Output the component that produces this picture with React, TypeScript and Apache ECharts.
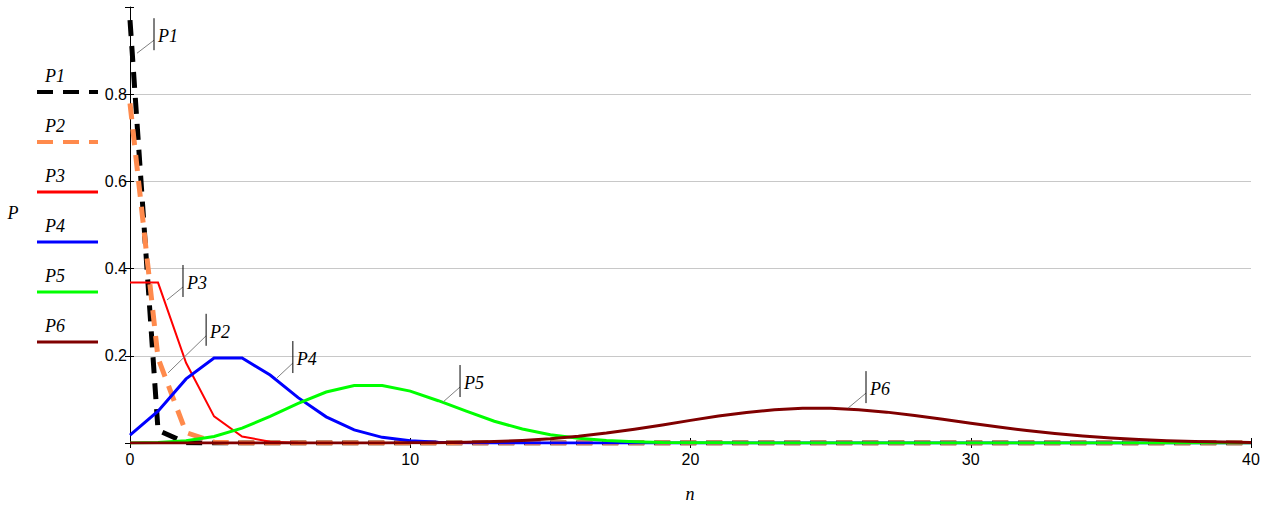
import React, { useEffect, useRef } from "react";
import * as echarts from "echarts";

// n values (x axis)
const N = [0, 1, 2, 3, 4, 5, 6, 7, 8, 9, 10, 11, 12, 13, 14, 15, 16, 17, 18, 19, 20, 21, 22, 23, 24, 25, 26, 27, 28, 29, 30, 31, 32, 33, 34, 35, 36, 37, 38, 39, 40];

const P1 = [0.97, 0.029, 0.0004, 0, 0, 0, 0, 0, 0, 0, 0, 0, 0, 0, 0, 0, 0, 0, 0, 0, 0, 0, 0, 0, 0, 0, 0, 0, 0, 0, 0, 0, 0, 0, 0, 0, 0, 0, 0, 0, 0];
const P2 = [0.779, 0.195, 0.024, 0.002, 0.0001, 0, 0, 0, 0, 0, 0, 0, 0, 0, 0, 0, 0, 0, 0, 0, 0, 0, 0, 0, 0, 0, 0, 0, 0, 0, 0, 0, 0, 0, 0, 0, 0, 0, 0, 0, 0];
const P3 = [0.368, 0.368, 0.184, 0.061, 0.015, 0.003, 0.0005, 0.0001, 0, 0, 0, 0, 0, 0, 0, 0, 0, 0, 0, 0, 0, 0, 0, 0, 0, 0, 0, 0, 0, 0, 0, 0, 0, 0, 0, 0, 0, 0, 0, 0, 0];
const P4 = [0.018, 0.073, 0.147, 0.195, 0.195, 0.156, 0.104, 0.06, 0.03, 0.013, 0.005, 0.002, 0.0006, 0.0002, 0.00005, 0, 0, 0, 0, 0, 0, 0, 0, 0, 0, 0, 0, 0, 0, 0, 0, 0, 0, 0, 0, 0, 0, 0, 0, 0, 0];
const P5 = [0.0001, 0.001, 0.005, 0.015, 0.034, 0.061, 0.091, 0.117, 0.132, 0.132, 0.119, 0.097, 0.073, 0.05, 0.032, 0.019, 0.011, 0.006, 0.003, 0.001, 0.0006, 0.0003, 0.0001, 0, 0, 0, 0, 0, 0, 0, 0, 0, 0, 0, 0, 0, 0, 0, 0, 0, 0];
const P6 = [0, 0, 0, 0, 0, 0, 0, 0, 0.00005, 0.00015, 0.0004, 0.0008, 0.0017, 0.0033, 0.0059, 0.0099, 0.0155, 0.0227, 0.0316, 0.0415, 0.0519, 0.0618, 0.0702, 0.0763, 0.0795, 0.0795, 0.0765, 0.0708, 0.0632, 0.0545, 0.0454, 0.0366, 0.0286, 0.0217, 0.0159, 0.0114, 0.0079, 0.0053, 0.0035, 0.0023, 0.0014];

const SERIES_NAMES = ["P1", "P2", "P3", "P4", "P5", "P6"];
const SERIES_VALUES = [P1, P2, P3, P4, P5, P6];

// annotation anchors on the curves (data coords) and leader offsets (px)
const ANN_NAMES = ["P1", "P2", "P3", "P4", "P5", "P6"];
const ANN_N = [0.25, 1.36, 1.32, 5.24, 11.17, 25.62];
const ANN_P = [0.894, 0.161, 0.328, 0.149, 0.094, 0.08];
const ANN_DX = [17, 38, 16, 16, 17, 18];
const ANN_DY = [-13, -37, -13, -15, -15, -15];

const X_TICKS = { min: 0, max: 40, interval: 10 };
const Y_TICKS = { min: 0, max: 1, interval: 0.2 };

const STYLES = [
  { color: "#000000", width: 5, dash: [16, 10] as any },
  { color: "#ff8a4c", width: 5, dash: [16, 10] as any },
  { color: "#ff0000", width: 2, dash: "solid" as any },
  { color: "#0000ff", width: 3, dash: "solid" as any },
  { color: "#00ff00", width: 3, dash: "solid" as any },
  { color: "#800000", width: 3, dash: "solid" as any },
];

const SERIF = '"Liberation Serif", "DejaVu Serif", serif';
const SANS = '"Liberation Sans", Arial, sans-serif';
const LABEL_FONT = `italic normal 400 18px ${SERIF}`;

export default function App() {
  const ref = useRef<HTMLDivElement>(null);
  useEffect(() => {
    document.body.style.margin = "0";
    const chart = echarts.init(ref.current!, null, { renderer: "svg" });
    const option: any = {
      animation: false,
      backgroundColor: "#ffffff",
      grid: { left: 130, right: 22, top: 7, bottom: 65, containLabel: false },
      xAxis: [
        {
          type: "value",
          ...X_TICKS,
          axisLine: { show: true, lineStyle: { color: "#000", width: 1 } },
          axisTick: { show: true, length: 5, lineStyle: { color: "#000" } },
          axisLabel: { color: "#000", fontSize: 16, fontFamily: SANS, margin: 8 },
          splitLine: { show: false },
        },
        {
          type: "value",
          ...X_TICKS,
          position: "bottom",
          axisLine: { show: false },
          axisTick: { show: true, inside: true, length: 5, lineStyle: { color: "#000" } },
          axisLabel: { show: false },
          splitLine: { show: false },
        },
      ],
      yAxis: [
        {
          type: "value",
          ...Y_TICKS,
          axisLine: { show: true, lineStyle: { color: "#000", width: 1 } },
          axisTick: { show: true, length: 5, lineStyle: { color: "#000" } },
          axisLabel: {
            color: "#000",
            fontSize: 16,
            fontFamily: SANS,
            margin: 3,
            formatter: (v: number) => (v < 0.01 || v > 0.99 ? "" : String(+v.toFixed(1))),
          },
          splitLine: {
            show: true,
            showMinLine: false,
            showMaxLine: false,
            lineStyle: { color: "#c8c8c8", width: 1 },
          },
        },
        {
          type: "value",
          ...Y_TICKS,
          position: "left",
          axisLine: { show: false },
          axisTick: { show: true, inside: true, length: 4, lineStyle: { color: "#000" } },
          axisLabel: { show: false },
          splitLine: { show: false },
        },
      ],
      series: SERIES_NAMES.map((name, i) => ({
        name,
        type: "line",
        xAxisIndex: 0,
        yAxisIndex: 0,
        data: N.map((n, k) => [n, SERIES_VALUES[i][k]]),
        symbol: "none",
        showSymbol: false,
        silent: true,
        itemStyle: { color: STYLES[i].color },
        lineStyle: {
          color: STYLES[i].color,
          width: STYLES[i].width,
          type: STYLES[i].dash,
          cap: "butt",
          join: "miter",
        },
      })),
    };
    chart.setOption(option);

    const textStyle = (text: string, align: string) => ({
      text,
      font: LABEL_FONT,
      fill: "#000",
      textAlign: align,
      textVerticalAlign: "middle",
      align,
      verticalAlign: "middle",
    });

    const graphics: any[] = [];
    // legend (text above line sample)
    SERIES_NAMES.forEach((name, i) => {
      const ly = 92 + i * 50;
      graphics.push({
        type: "line",
        shape: { x1: 37, y1: ly, x2: 98, y2: ly },
        style: {
          stroke: STYLES[i].color,
          lineWidth: i < 2 ? 4 : 3,
          lineDash: i < 2 ? [16, 10] : null,
        },
        silent: true,
      });
      graphics.push({
        type: "text",
        x: 45,
        y: ly - 16,
        style: textStyle(name, "left"),
        silent: true,
      });
    });
    // axis names
    graphics.push({ type: "text", x: 13, y: 213, style: textStyle("P", "center") });
    graphics.push({ type: "text", x: 690, y: 494, style: textStyle("n", "center") });
    // curve annotations
    ANN_NAMES.forEach((name, i) => {
      const pt = chart.convertToPixel({ xAxisIndex: 0, yAxisIndex: 0 }, [ANN_N[i], ANN_P[i]]) as number[];
      const ax = pt[0];
      const ay = pt[1];
      const ex = ax + ANN_DX[i];
      const ey = ay + ANN_DY[i];
      graphics.push({
        type: "line",
        shape: { x1: ax, y1: ay, x2: ex, y2: ey },
        style: { stroke: "#808080", lineWidth: 1 },
        z: 10,
      });
      graphics.push({
        type: "line",
        shape: { x1: ex, y1: ey - 22, x2: ex, y2: ey + 10 },
        style: { stroke: "#000", lineWidth: 1 },
        z: 10,
      });
      graphics.push({
        type: "text",
        x: ex + 4,
        y: ey - 4,
        z: 10,
        style: textStyle(name, "left"),
      });
    });
    chart.setOption({ graphic: graphics });
    return () => chart.dispose();
  }, []);
  return (
    <div
      ref={ref}
      style={{ position: "fixed", left: 0, top: 0, width: 1273, height: 508, background: "#fff" }}
    />
  );
}
